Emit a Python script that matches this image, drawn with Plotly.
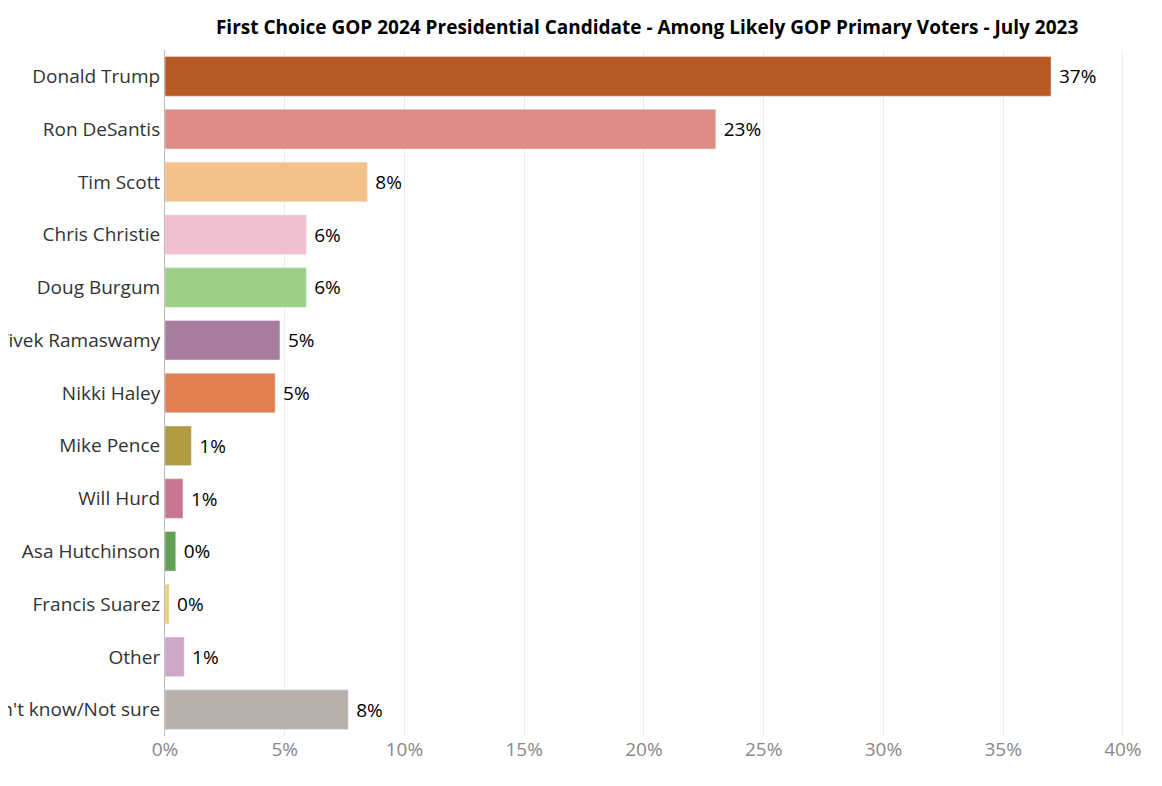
import plotly.graph_objects as go

candidates = ["Donald Trump", "Ron DeSantis", "Tim Scott", "Chris Christie", "Doug Burgum",
              "Vivek Ramaswamy", "Nikki Haley", "Mike Pence", "Will Hurd", "Asa Hutchinson",
              "Francis Suarez", "Other", "Don't know/Not sure"]
share = [37.0, 23.0, 8.45, 5.9, 5.9, 4.8, 4.6, 1.1, 0.75, 0.45, 0.17, 0.8, 7.65]
labels = ["37%", "23%", "8%", "6%", "6%", "5%", "5%", "1%", "1%", "0%", "0%", "1%", "8%"]
colors = ["#b95a24", "#de8c85", "#f5c18a", "#f2bfd1", "#9ccf87", "#a77c9d", "#e37f51",
          "#b39b41", "#c87592", "#62a055", "#f1cf6a", "#cfa8c8", "#b8b0ab"]

fig = go.Figure(go.Bar(
    x=share, y=candidates, orientation="h",
    marker=dict(color=colors), width=0.75,
    text=[" " + t for t in labels], textposition="outside", cliponaxis=False,
    textfont=dict(size=19, color="black"),
))

fig.update_layout(
    width=1162, height=786,
    paper_bgcolor="white", plot_bgcolor="white",
    font=dict(family="Open Sans, sans-serif"),
    title=dict(text="<b>First Choice GOP 2024 Presidential Candidate - Among Likely GOP Primary Voters - July 2023</b>",
               x=0.55, xanchor="center", y=0.975, yanchor="middle",
               font=dict(size=19, color="black"), automargin=False),
    margin=dict(l=157, r=22, t=42, b=58),
    showlegend=False,
)
fig.update_xaxes(range=[0, 41.05], tickvals=[0, 5, 10, 15, 20, 25, 30, 35, 40],
                 ticktext=["0%", "5%", "10%", "15%", "20%", "25%", "30%", "35%", "40%"],
                 showgrid=True, gridcolor="#ececec", zeroline=False,
                 tickfont=dict(size=19, color="#888"), ticks="", automargin=False)
fig.update_yaxes(autorange="reversed", automargin=False, ticks="", showline=True,
                 linecolor="#bbb", linewidth=1,
                 tickfont=dict(size=19, color="#333"))

fig.write_html("out.html")
